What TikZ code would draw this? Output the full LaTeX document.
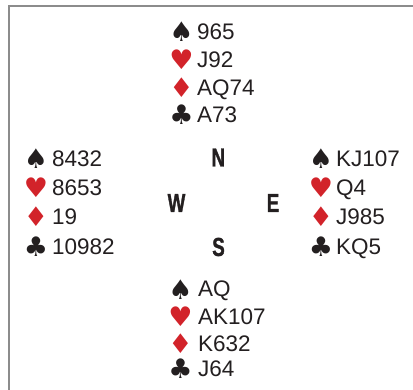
\documentclass[tikz,border=0pt]{standalone}
\usepackage{fontspec}
\setmainfont{Liberation Sans}
\newfontfamily\suitfont{DejaVu Sans}
\newfontfamily\compassfont[FakeStretch=0.72,FakeBold=1.2]{Liberation Sans Bold}
\definecolor{ink}{HTML}{231F20}
\definecolor{suitred}{HTML}{D2232A}
\definecolor{framegray}{HTML}{8C8C8C}
\begin{document}
\begin{tikzpicture}[x=1pt,y=-1pt,
  cards/.style={anchor=base west,inner sep=0pt,text=ink,font=\fontsize{22.5}{22.5}\selectfont},
  blk/.style={anchor=center,inner sep=0pt,text=ink,font=\suitfont\fontsize{27}{27}\selectfont},
  rd/.style={blk,text=suitred},
  dir/.style={anchor=center,inner sep=0pt,text=ink,font=\compassfont\fontsize{26}{26}\selectfont},
  frame/.style={draw=framegray,line width=1.4pt}]
\useasboundingbox (0,0) rectangle (413,390);
\coordinate (tl) at (9,6);
\coordinate (tr) at (413,6);
\coordinate (bl) at (9,390);
\draw[frame] (tr) -- (tl) -- (bl);
% North
\node[blk] (ns) at (181.5,32) {♠};
\node[rd]  (nh) at (181.5,60) {♥};
\node[rd]  (nd) at (181.5,88) {♦};
\node[blk] (nc) at (181.5,115) {♣};
\node[cards] (nst) at (197,40) {965};
\node[cards] (nht) at (197,67.5) {J92};
\node[cards] (ndt) at (197,95.5) {AQ74};
\node[cards] (nct) at (197,123) {A73};
% West
\node[blk] (ws) at (36,158.5) {♠};
\node[rd]  (wh) at (36,188) {♥};
\node[rd]  (wd) at (36,217) {♦};
\node[blk] (wc) at (36,247) {♣};
\node[cards] (wst) at (52,166.5) {8432};
\node[cards] (wht) at (52,196) {8653};
\node[cards] (wdt) at (52,225) {19};
\node[cards] (wct) at (52,255) {10982};
% East
\node[blk] (es) at (321,158.5) {♠};
\node[rd]  (eh) at (321,188) {♥};
\node[rd]  (ed) at (321,217) {♦};
\node[blk] (ec) at (321,247) {♣};
\node[cards] (est) at (336,166.5) {KJ107};
\node[cards] (eht) at (336,196) {Q4};
\node[cards] (edt) at (336,225) {J985};
\node[cards] (ect) at (336,255) {KQ5};
% South
\node[blk] (ss) at (180.5,290) {♠};
\node[rd]  (sh) at (180.5,317) {♥};
\node[rd]  (sd) at (180.5,343.5) {♦};
\node[blk] (sc) at (180.5,369) {♣};
\node[cards] (sst) at (198,297) {AQ};
\node[cards] (sht) at (198,325) {AK107};
\node[cards] (sdt) at (198,352) {K632};
\node[cards] (sct) at (198,377) {J64};
% Compass
\node[dir] (N) at (218.3,157.5) {N};
\node[dir] (W) at (176.5,203) {W};
\node[dir] (E) at (273,203) {E};
\node[dir] (S) at (218.5,247) {S};
\end{tikzpicture}
\end{document}
